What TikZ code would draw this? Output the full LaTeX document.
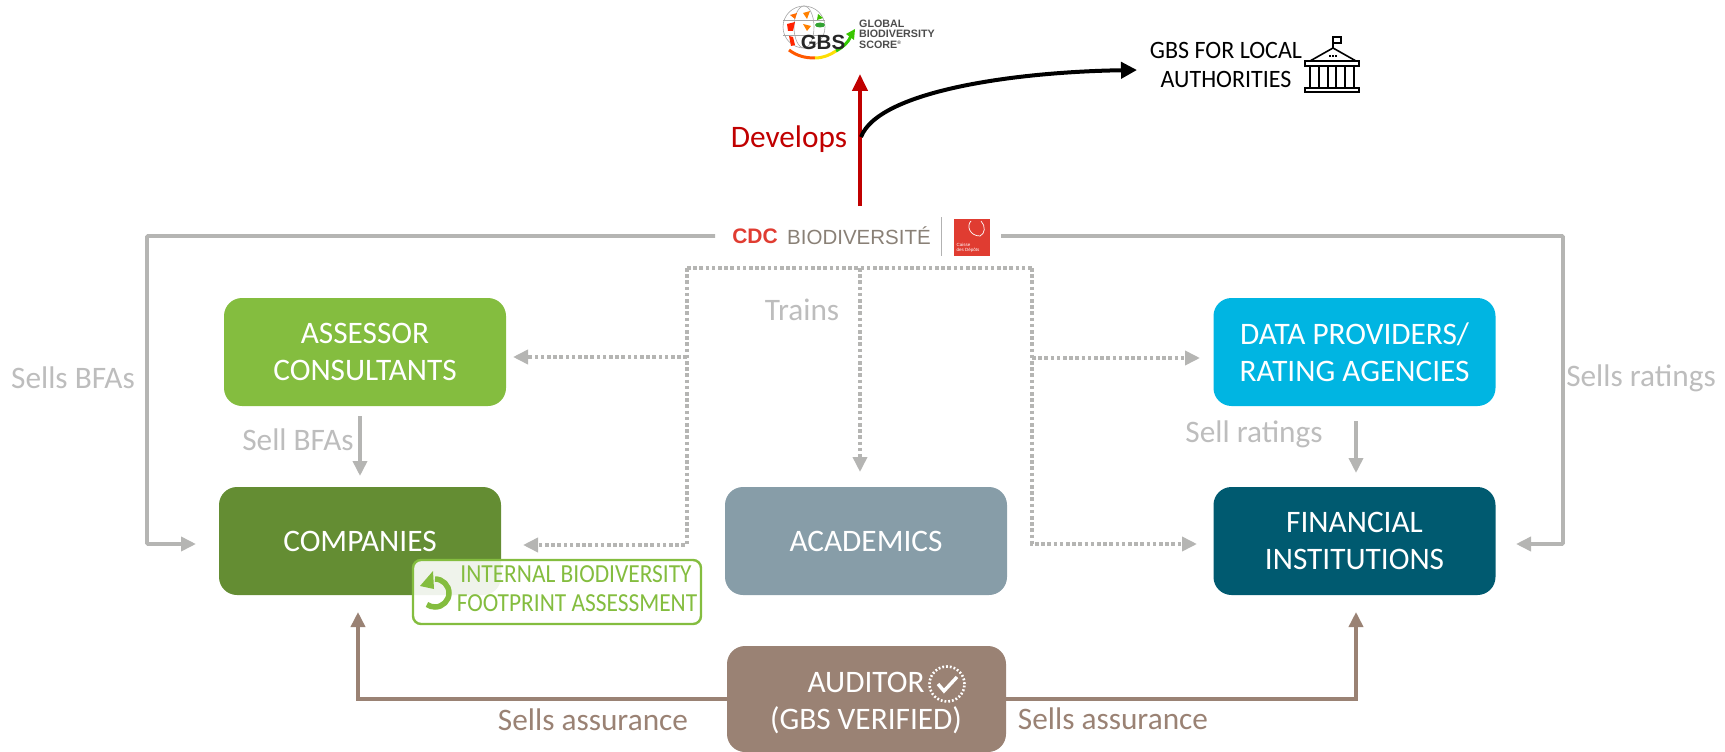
\documentclass[tikz,border=0pt]{standalone}
\usepackage{fontspec}
\setmainfont{Carlito}
\newfontfamily\logofont{Liberation Sans}
\newfontfamily\narrowfont[FakeStretch=0.9]{Carlito}
\newfontfamily\slimfont[FakeStretch=0.96]{Carlito}
\usetikzlibrary{arrows.meta,calc}
\definecolor{cAss}{HTML}{84BD3F}
\definecolor{cCom}{HTML}{648D33}
\definecolor{cAca}{HTML}{879DA8}
\definecolor{cDat}{HTML}{00B5E2}
\definecolor{cFin}{HTML}{005A70}
\definecolor{cAud}{HTML}{9A8274}
\definecolor{cGry}{HTML}{B5B5B3}
\definecolor{cTxt}{HTML}{BDBDBD}
\definecolor{cRed}{HTML}{C00000}
\definecolor{cCdc}{HTML}{E03C31}
\tikzset{
  x=1pt,y=-1pt,
  actor/.style={rounded corners=18pt,minimum width=#1,minimum height=108pt,inner sep=0pt,align=center,text=white,font=\fontsize{31.3}{37.5}\selectfont},
  actor/.default=282pt,
  lbl/.style={inner sep=0pt,text=cTxt,font=\fontsize{31.3}{36}\selectfont},
  solidgray/.style={draw=cGry,line width=3.6pt,-{Triangle[length=15pt,width=14pt]}},
  dotgray/.style={draw=cGry,line width=3.6pt,dash pattern=on 3.6pt off 2.6pt,-{Triangle[length=15pt,width=14pt]}},
  plaindot/.style={draw=cGry,line width=3.6pt,dash pattern=on 3.6pt off 2.6pt},
  brownarrow/.style={draw=cAud,line width=3.6pt,-{Triangle[length=15pt,width=14pt]}},
}
\begin{document}
\begin{tikzpicture}
\useasboundingbox (0,0) rectangle (1725,752);
% actors
\node[actor,fill=cAss] (ass) at (365,352) {ASSESSOR\\CONSULTANTS};
\node[actor,fill=cCom] (com) at (360,541) {COMPANIES};
\node[actor,fill=cAca] (aca) at (866,541) {ACADEMICS};
\node[actor,fill=cDat] (dat) at (1354.5,352) {DATA PROVIDERS/\\RATING AGENCIES};
\node[actor,fill=cFin] (fin) at (1354.5,541) {FINANCIAL\\INSTITUTIONS};
\node[actor=279pt,fill=cAud,minimum height=106pt] (aud) at (866.5,699) {};
\node[inner sep=0,text=white,font=\fontsize{31.3}{37}\selectfont] (audA) at (866,682) {AUDITOR};
\node[inner sep=0,text=white,font=\fontsize{31.3}{37}\selectfont] (audB) at (866,720) {(GBS VERIFIED)};
% check badge
\node[circle,draw=white,line width=2.6pt,dash pattern=on 1.8pt off 2pt,minimum size=35pt,inner sep=0pt] (badge) at (947,684) {};
\draw[white,line width=3.4pt] (938,684) -- (944,691) -- (957,677);
% internal box
\node[draw=cAss,line width=2.4pt,fill=white,fill opacity=.9,text opacity=1,rounded corners=8pt,minimum width=288pt,minimum height=64pt,inner sep=0pt] (int) at (557,592) {};
\node[inner sep=0,text=cAss,font=\narrowfont\fontsize{26}{31}\selectfont] (intA) at (576,574) {INTERNAL BIODIVERSITY};
\node[inner sep=0,text=cAss,font=\narrowfont\fontsize{26}{31}\selectfont] (intB) at (577,603) {FOOTPRINT ASSESSMENT};
\coordinate (loop) at (435,593);
\draw[cAss,line width=5.5pt] ($(loop)+(0,-14)$) arc (-90:125:14);
\fill[cAss] (420,586) -- (433,571) -- (434,589) -- cycle;
% CDC logo
\node[inner sep=0,text=cCdc,font=\logofont\bfseries\fontsize{21}{24}\selectfont] (cdc) at (755,236) {CDC};
\node[inner sep=0,text=gray!85!brown,font=\logofont\fontsize{20.5}{24}\selectfont] (bio) at (859,236) {BIODIVERSITÉ};
\draw[gray!60,line width=.8pt] (941,217) -- (941,256);
\node[fill=cCdc,minimum width=36pt,minimum height=37pt,inner sep=0pt] (cdcbox) at (972,237) {};
\draw[white,line width=.7pt] (971,221) .. controls (966,226) and (970,236) .. (980,236);
\draw[white,line width=.7pt] (981,221) .. controls (986,226) and (985,234) .. (980,236);
\node[text=white,inner sep=0,font=\logofont\fontsize{4.5}{5}\selectfont,align=left] (cdcname) at (968,248) {Caisse\\des Dépôts};
\coordinate (cdcL) at (715,236);
\coordinate (cdcR) at (1001,236);
% gray solid
\coordinate (gl1) at (147,236);
\coordinate (gl2) at (147,544);
\coordinate (gl3) at (196,544);
\coordinate (gr1) at (1563,236);
\coordinate (gr2) at (1563,544);
\coordinate (gr3) at (1516,544);
\draw[solidgray,rounded corners=1pt] (cdcL) -- (gl1) -- (gl2) -- (gl3);
\draw[solidgray,rounded corners=1pt] (cdcR) -- (gr1) -- (gr2) -- (gr3);
\coordinate (sa) at (360,416);
\coordinate (sae) at (360,476);
\coordinate (sb) at (1356,421);
\coordinate (sbe) at (1356,473);
\draw[solidgray] (sa) -- (sae);
\draw[solidgray] (sb) -- (sbe);
% dotted
\coordinate (d0) at (687,268);
\coordinate (d1) at (1032,268);
\coordinate (dc) at (860,268);
\coordinate (dce) at (860,472);
\coordinate (dl) at (687,545);
\coordinate (dle) at (523,545);
\coordinate (dm) at (687,357);
\coordinate (dme) at (513,357);
\coordinate (dr) at (1032,544);
\coordinate (dre) at (1197,544);
\coordinate (dn) at (1032,358);
\coordinate (dne) at (1200,358);
\draw[plaindot] (d0) -- (d1);
\draw[dotgray] (dc) -- (dce);
\draw[dotgray] (d0) -- (dl) -- (dle);
\draw[dotgray] (dm) -- (dme);
\draw[dotgray] (d1) -- (dr) -- (dre);
\draw[dotgray] (dn) -- (dne);
% brown
\coordinate (bl) at (358,699);
\coordinate (br) at (1356,699);
\coordinate (ble) at (358,612);
\coordinate (bre) at (1356,612);
\draw[brownarrow] (aud.west |- bl) -- (bl) -- (ble);
\draw[brownarrow] (aud.east |- br) -- (br) -- (bre);
% red / black
\coordinate (rs) at (860,206);
\coordinate (gbsArrow) at (860,74);
\coordinate (bs) at (861,137);
\coordinate (be) at (1137,70);
\draw[cRed,line width=4pt,-{Triangle[length=17pt,width=15pt]}] (rs) -- (gbsArrow);
\draw[black,line width=4pt,-{Triangle[length=16pt,width=16pt]}] (bs) .. controls (878,92) and (1010,72) .. (be);
% labels
\node[lbl] (l1) at (73,378) {Sells BFAs};
\node[lbl] (l2) at (298,440) {Sell BFAs};
\node[lbl] (l3) at (802,310) {Trains};
\node[lbl] (l4) at (1254,434) {Sell ratings};
\node[lbl] (l5) at (1641,378) {Sells ratings};
\node[lbl,text=cAud] (l6) at (593,720) {Sells assurance};
\node[lbl,text=cAud] (l7) at (1113,719) {Sells assurance};
\node[lbl,text=cRed] (l8) at (789,139) {Develops};
% GBS for local authorities
\node[inner sep=0,text=black,align=center,font=\slimfont\fontsize{25}{29}\selectfont] (gbl) at (1226,65) {GBS FOR LOCAL\\AUTHORITIES};
\begin{scope}[line width=1.6pt,black]
\draw (1333,48) -- (1333,37) -- (1341,37) -- (1341,43) -- (1333,43);
\draw (1310,61) -- (1333,48) -- (1356,61);
\draw (1305,61) rectangle (1359,66);
\draw (1305,88) rectangle (1359,92);
\foreach \x in {1310,1319,1328,1336,1345,1354} \draw (\x,66) -- (\x,88);
\draw[line width=1.2pt,dash pattern=on 1.5pt off 1.5pt] (1329,56) -- (1337,56);
\end{scope}
% GBS logo
\coordinate (gc) at (804,27);
\begin{scope}
\draw[gray!70,line width=.6pt] (gc) circle (21);
\draw[gray!70,line width=.6pt] (gc) ellipse (10 and 21);
\draw[gray!70,line width=.6pt] ($(gc)+(-21,-7)$) -- ($(gc)+(21,-7)$);
\draw[gray!70,line width=.6pt] ($(gc)+(-21,8)$) -- ($(gc)+(21,8)$);
\fill[orange!85!red] (790,15) -- (797,13) -- (795,19) -- cycle;
\fill[orange] (803,13) -- (810,11) -- (807,19) -- cycle;
\fill[green!50!olive] (818,14) -- (823,18) -- (817,20) -- cycle;
\fill[red!75!orange] (787,24) -- (795,22) -- (793,31) -- (788,31) -- cycle;
\fill[orange] (803,24) -- (811,26) -- (807,31) -- cycle;
\fill[green!55!black!80] (820,25) ellipse (5 and 2.5);
\fill[red!70!orange] (789,36) -- (793,37) -- (795,45) -- (791,46) -- cycle;
\draw[line width=3pt,orange!70!red] (789,50) .. controls (797,56) and (805,58) .. (815,58);
\draw[line width=3pt,yellow!80!orange] (815,58) .. controls (823,58) and (830,55) .. (836,51);
\draw[line width=3pt,green!60!olive] (836,51) .. controls (843,47) and (848,43) .. (851,36);
\fill[green!55!olive] (855,29) -- (846,34) -- (854,40) -- cycle;
\end{scope}
\node[inner sep=0,font=\logofont\bfseries\fontsize{20.5}{24}\selectfont,text=black!85] (gbst) at (823,42) {GBS};
\node[inner sep=0,anchor=west,align=left,text=black!70,font=\logofont\bfseries\fontsize{10.7}{10.6}\selectfont] (gbsn) at (859,34) {GLOBAL\\BIODIVERSITY\\SCORE\textsuperscript{\tiny ®}};
\end{tikzpicture}
\end{document}
